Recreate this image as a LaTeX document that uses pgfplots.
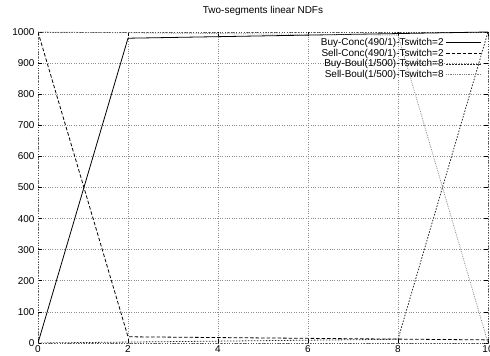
\documentclass[border=0pt]{standalone}
\usepackage{pgfplots}
\pgfplotsset{compat=1.18}
\usepackage{fontspec}
\setmainfont{Liberation Sans}
\begin{document}
\begin{tikzpicture}
\begin{axis}[
  at={(38bp,13bp)}, anchor=south west,
  scale only axis, width=450bp, height=311bp,
  xmin=0, xmax=10, ymin=0, ymax=1000,
  xtick={0,2,4,6,8,10}, ytick={0,100,...,1000},
  grid=major, grid style={dotted, gray!90, line width=0.6bp},
  axis line style={dotted, gray!60!black, line width=0.7bp},
  tick style={black, line width=0.6bp}, tick align=inside, major tick length=4bp,
  tick label style={font=\fontsize{10}{12}\selectfont},
  /pgf/number format/assume math mode=true,
  /pgf/number format/set thousands separator={},
  xticklabel style={yshift=1bp},
  title={Two-segments linear NDFs},
  title style={font=\fontsize{10}{12}\selectfont, yshift=7bp},
  legend style={draw=none, fill=none, at={(0.988,0.99)}, anchor=north east,
    font=\fontsize{10}{12}\selectfont, row sep=-2bp, inner sep=1bp},
  legend cell align=right, legend plot pos=right,
  legend image code/.code={\draw[#1] (0bp,0bp) -- (35bp,0bp);},
]
\addplot[black, line width=0.8bp] coordinates {(0,0) (2,980) (10,1000)};
\addlegendentry{Buy-Conc(490/1)-Tswitch=2}
\addplot[black, line width=0.8bp, dash pattern=on 3.5bp off 2bp] coordinates {(0,1000) (2,20) (10,10)};
\addlegendentry{Sell-Conc(490/1)-Tswitch=2}
\addplot[black!85, line width=0.8bp, dash pattern=on 1.5bp off 1.5bp] coordinates {(0,0) (8,12) (10,1000)};
\addlegendentry{Buy-Boul(1/500)-Tswitch=8}
\addplot[gray, line width=0.7bp, dash pattern=on 0.8bp off 1bp] coordinates {(0,1000) (8,990) (10,0)};
\addlegendentry{Sell-Boul(1/500)-Tswitch=8}
\end{axis}
\pgfresetboundingbox
\path[use as bounding box] (0,0) rectangle (490bp,356bp);
\end{tikzpicture}
\end{document}
